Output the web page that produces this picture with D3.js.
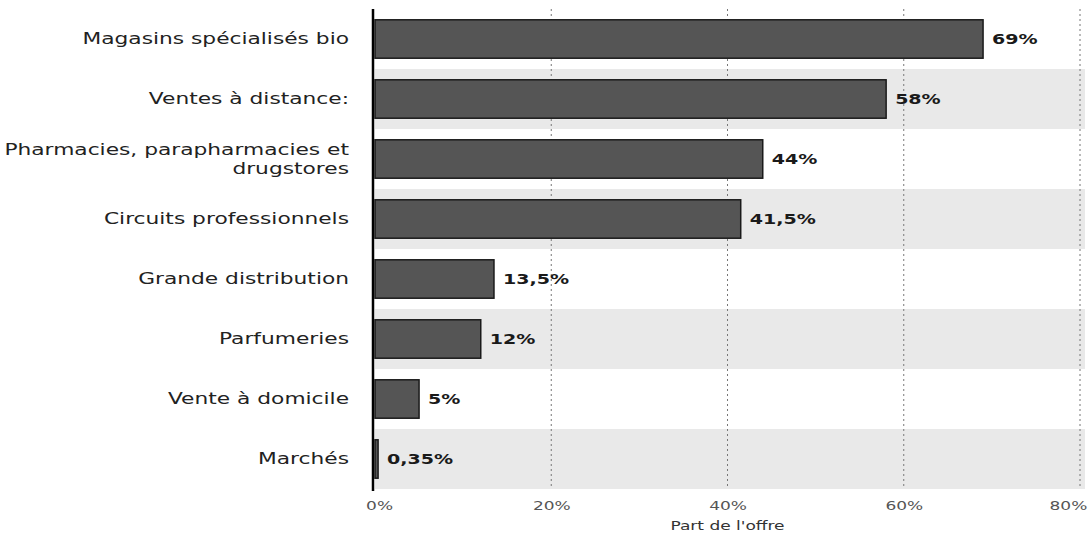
<!DOCTYPE html>
<html>
<head>
<meta charset="utf-8">
<script src="https://cdn.jsdelivr.net/npm/d3@7"></script>
<style>
  body { margin: 0; background: #fff; }
  text { font-family: "DejaVu Sans", Verdana, sans-serif; }
</style>
</head>
<body>
<div id="chart"></div>
<script>
const categories = [
  ["Magasins spécialisés bio"],
  ["Ventes à distance:"],
  ["Pharmacies, parapharmacies et", "drugstores"],
  ["Circuits professionnels"],
  ["Grande distribution"],
  ["Parfumeries"],
  ["Vente à domicile"],
  ["Marchés"]
];
const values = [69, 58, 44, 41.5, 13.5, 12, 5, 0.35];
const valueLabels = ["69%", "58%", "44%", "41,5%", "13,5%", "12%", "5%", "0,35%"];
const ticks = [0, 20, 40, 60, 80];
const axisTitle = "Part de l'offre";

const width = 1089, height = 537;
const margin = { top: 9, right: 9, bottom: 48, left: 375 };
const stretch = 1.36; // the scanned text is wide

const svg = d3.select("#chart").append("svg")
  .attr("width", width)
  .attr("height", height);

const x = d3.scaleLinear().domain([0, 80]).range([margin.left, width - margin.right]);
const y = d3.scaleBand().domain(d3.range(values.length))
  .range([margin.top, height - margin.bottom]).paddingInner(0.36).paddingOuter(0.18);
const band = d3.scaleBand().domain(d3.range(values.length))
  .range([margin.top, height - margin.bottom]);

// alternating row bands
svg.append("g").selectAll("rect")
  .data(d3.range(values.length).filter(i => i % 2 === 1))
  .join("rect")
  .attr("x", x(0))
  .attr("y", i => band(i))
  .attr("width", x(80) - x(0) + 5)
  .attr("height", band.bandwidth())
  .attr("fill", "#e9e9e9");

// grid lines
svg.append("g").selectAll("line")
  .data(ticks.slice(1))
  .join("line")
  .attr("x1", d => x(d)).attr("x2", d => x(d))
  .attr("y1", margin.top).attr("y2", height - margin.bottom)
  .attr("stroke", "#777")
  .attr("stroke-width", 1)
  .attr("stroke-dasharray", "2,3");

// bars
svg.append("g").selectAll("rect")
  .data(values)
  .join("rect")
  .attr("x", x(0))
  .attr("y", (d, i) => y(i))
  .attr("width", d => x(d) - x(0))
  .attr("height", y.bandwidth())
  .attr("fill", "#555")
  .attr("stroke", "#1a1a1a")
  .attr("stroke-width", 1.5);

// value labels
svg.append("g").selectAll("g")
  .data(values)
  .join("g")
  .attr("transform", (d, i) => `translate(${x(d) + 9},${y(i) + y.bandwidth() / 2}) scale(${stretch},1)`)
  .append("text")
  .attr("dy", "0.35em")
  .attr("font-size", 14)
  .attr("font-weight", "bold")
  .attr("fill", "#1a1a1a")
  .text((d, i) => valueLabels[i]);

// category labels
const cat = svg.append("g").selectAll("g")
  .data(categories)
  .join("g")
  .attr("transform", (d, i) => `translate(${margin.left - 26},${y(i) + y.bandwidth() / 2}) scale(1.45,1)`)
  .append("text")
  .attr("text-anchor", "end")
  .attr("font-size", 15)
  .attr("fill", "#222");

cat.selectAll("tspan")
  .data(d => d.map((t, k) => ({ t, k, n: d.length })))
  .join("tspan")
  .attr("x", 0)
  .attr("dy", d => d.k === 0 ? (0.35 - (d.n - 1) * 0.6) + "em" : "1.25em")
  .text(d => d.t);

// y axis line
svg.append("line")
  .attr("x1", x(0) - 2).attr("x2", x(0) - 2)
  .attr("y1", margin.top).attr("y2", height - margin.bottom + 2)
  .attr("stroke", "#000")
  .attr("stroke-width", 2.5);

// x axis ticks
const xAxis = svg.append("g")
  .attr("transform", `translate(0,${height - margin.bottom})`)
  .call(d3.axisBottom(x).tickValues(ticks).tickFormat(d => d + "%").tickSize(0).tickPadding(12));
xAxis.select(".domain").remove();
xAxis.selectAll("text")
  .attr("font-family", "DejaVu Sans, sans-serif")
  .attr("font-size", 12.5)
  .attr("fill", "#555")
  .attr("text-anchor", (d, i) => i === ticks.length - 1 ? "end" : "middle")
  .attr("x", (d, i) => i === 0 ? 3 : i === ticks.length - 1 ? 5 : 0)
  .attr("transform", `scale(${stretch},1)`);

svg.append("g")
  .attr("transform", `translate(${(x(0) + x(80)) / 2},${height - 7}) scale(${stretch},1)`)
  .append("text")
  .attr("text-anchor", "middle")
  .attr("font-size", 12.5)
  .attr("fill", "#333")
  .text(axisTitle);
</script>
</body>
</html>
